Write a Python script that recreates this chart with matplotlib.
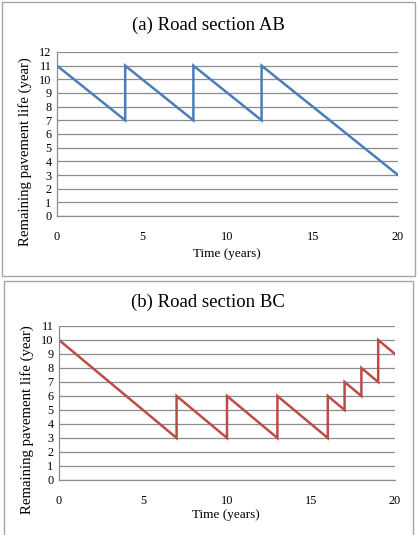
import matplotlib
matplotlib.use("Agg")
import matplotlib.pyplot as plt
from matplotlib.patches import Rectangle

plt.rcParams["font.family"] = ["Liberation Serif", "DejaVu Serif"]

# Road section AB
ab_t = [0, 4, 4, 8, 8, 12, 12, 20]
ab_life = [11, 7, 11, 7, 11, 7, 11, 3]

# Road section BC
bc_t = [0, 7, 7, 10, 10, 13, 13, 16, 16, 17, 17, 18, 18, 19, 19, 20]
bc_life = [10, 3, 6, 3, 6, 3, 6, 3, 6, 5, 7, 6, 8, 7, 10, 9]

x_ticks = [0, 5, 10, 15, 20]
C_AB = "#4a7ebb"
C_BC = "#be4b48"
W, H = 417, 535


def px(x0, y0, x1, y1):
    # pixel box (top-left origin) -> figure rect
    return [x0 / W, 1 - y1 / H, (x1 - x0) / W, (y1 - y0) / H]


def panel(ax, t, life, color, ymax):
    ax.plot(t, life, color=color, lw=1.8, solid_joinstyle="miter")
    ax.set_xlim(0, 20)
    ax.set_ylim(0, ymax)
    ax.set_xticks(x_ticks)
    ax.set_yticks(range(0, ymax + 1))
    ax.grid(axis="y", color="#8c8c8c", lw=0.9)
    ax.set_axisbelow(True)
    for s in ("top", "right"):
        ax.spines[s].set_visible(False)
    for s in ("left", "bottom"):
        ax.spines[s].set_color("#8c8c8c")
        ax.spines[s].set_linewidth(0.9)
    ax.tick_params(axis="x", length=0, pad=11, labelsize=8.8)
    ax.tick_params(axis="y", length=0, pad=4, labelsize=8.8)


fig = plt.figure(figsize=(W / 100, H / 100), dpi=100)

# panel frames
fig.patches.append(Rectangle((1.5 / W, 1 - 276 / H), 413.5 / W, 274 / H,
                             transform=fig.transFigure, fill=False, ec="#a6a6a6", lw=1))
fig.patches.append(Rectangle((4 / W, 1 - 545 / H), 409 / W, 264 / H,
                             transform=fig.transFigure, fill=False, ec="#a6a6a6", lw=1))

ax1 = fig.add_axes(px(57, 52, 398, 216))
panel(ax1, ab_t, ab_life, C_AB, 12)
fig.text(208 / W, 1 - 25 / H, "(a) Road section AB", ha="center", va="center", fontsize=13.5)
fig.text(227 / W, 1 - 254 / H, "Time (years)", ha="center", va="center", fontsize=9.5)
fig.text(25 / W, 1 - 152 / H, "Remaining pavement life (year)", ha="center", va="center",
         rotation=90, fontsize=10.6)

ax2 = fig.add_axes(px(59, 326, 395, 480))
panel(ax2, bc_t, bc_life, C_BC, 11)
fig.text(208 / W, 1 - 302 / H, "(b) Road section BC", ha="center", va="center", fontsize=13.5)
fig.text(226 / W, 1 - 515 / H, "Time (years)", ha="center", va="center", fontsize=9.5)
fig.text(27 / W, 1 - 420 / H, "Remaining pavement life (year)", ha="center", va="center",
         rotation=90, fontsize=10.6)

fig.savefig("out.png", dpi=100)
